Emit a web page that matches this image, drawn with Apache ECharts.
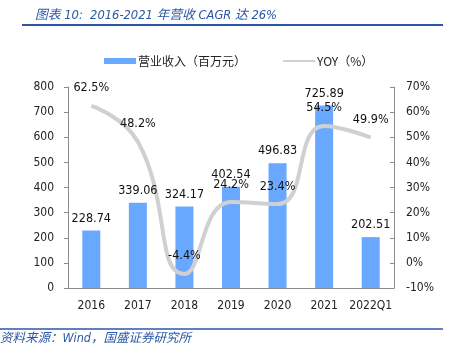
<!DOCTYPE html>
<html>
<head>
<meta charset="utf-8">
<script src="https://cdn.jsdelivr.net/npm/echarts@6/dist/echarts.min.js"></script>
<style>
html,body{margin:0;padding:0;background:#fff;}
#chart{width:450px;height:352px;}
</style>
</head>
<body>
<div id="chart"></div>
<script>
var categories = ['2016', '2017', '2018', '2019', '2020', '2021', '2022Q1'];
var revenue = [228.74, 339.06, 324.17, 402.54, 496.83, 725.89, 202.51];
var yoy = [62.5, 48.2, -4.4, 24.2, 23.4, 54.5, 49.9];
var leftTicks = [0, 100, 200, 300, 400, 500, 600, 700, 800];
var rightTicks = [-10, 0, 10, 20, 30, 40, 50, 60, 70];
var titleText = '图表 10:  2016-2021 年营收 CAGR 达 26%';
var sourceText = '资料来源：Wind，国盛证券研究所';
var barName = '营业收入（百万元）';
var lineName = 'YOY（%）';

var NUMFONT = '"DejaVu Sans Condensed", "DejaVu Sans", "Noto Sans CJK SC", sans-serif';
var CJKFONT = '"Noto Sans CJK SC", sans-serif';
var BLUE = '#2b57a5';
var AXIS = '#8c8c8c';

var chart = echarts.init(document.getElementById('chart'), null, {renderer: 'canvas'});
chart.setOption({
  backgroundColor: '#fff',
  animation: false,
  title: {
    text: titleText,
    left: 30, top: 4,
    textStyle: {color: BLUE, fontStyle: 'italic', fontWeight: 'normal', fontSize: 12.8, fontFamily: NUMFONT}
  },
  graphic: [
    {type: 'line', shape: {x1: 22, y1: 25, x2: 443, y2: 25}, style: {stroke: BLUE, lineWidth: 2}},
    {type: 'line', shape: {x1: 0, y1: 329, x2: 443, y2: 329}, style: {stroke: BLUE, lineWidth: 1.5}},
    {type: 'text', left: 0, top: 332, style: {text: sourceText, fill: BLUE, fontStyle: 'italic', fontSize: 12.5, fontFamily: NUMFONT}}
  ],
  legend: {
    left: 99, top: 50,
    itemGap: 36,
    itemWidth: 32, itemHeight: 6,
    textStyle: {color: '#222', fontSize: 12, fontFamily: CJKFONT, padding: [0, 0, 0, -3]},
    data: [{name: barName, icon: 'rect'}, {name: lineName}]
  },
  grid: {left: 68, right: 56, top: 87, bottom: 64},
  xAxis: {
    type: 'category',
    data: categories,
    boundaryGap: true,
    axisLine: {lineStyle: {color: AXIS}},
    axisTick: {inside: true, length: 4, interval: 0, lineStyle: {color: AXIS}},
    axisLabel: {color: '#222', fontSize: 12, fontFamily: NUMFONT, margin: 12, interval: 0}
  },
  yAxis: [
    {
      type: 'value', min: leftTicks[0], max: leftTicks[leftTicks.length - 1], interval: 100,
      splitLine: {show: false},
      axisLine: {show: true, lineStyle: {color: AXIS}},
      axisTick: {show: true, length: 4, lineStyle: {color: AXIS}},
      axisLabel: {color: '#222', fontSize: 12, fontFamily: NUMFONT, margin: 14}
    },
    {
      type: 'value', min: rightTicks[0], max: rightTicks[rightTicks.length - 1], interval: 10,
      splitLine: {show: false},
      axisLine: {show: true, lineStyle: {color: AXIS}},
      axisTick: {show: true, inside: true, length: 4, lineStyle: {color: AXIS}},
      axisLabel: {color: '#222', fontSize: 12, fontFamily: NUMFONT, margin: 12, formatter: '{value}%'}
    }
  ],
  series: [
    {
      name: barName,
      type: 'bar',
      data: revenue,
      barWidth: 18,
      z: 2,
      itemStyle: {color: '#69a8ff'}
    },
    {
      name: lineName,
      type: 'line',
      yAxisIndex: 1,
      data: yoy,
      smooth: 0.5,
      symbol: 'circle',
      symbolSize: 1,
      itemStyle: {color: 'rgba(208,208,208,0)'},
      lineStyle: {color: '#d0d0d0', width: 4},
      z: 3,
      label: {show: true, position: 'top', distance: 11, color: '#111', fontSize: 12.5, fontFamily: NUMFONT,
        formatter: function (p) { return p.value.toFixed(1) + '%'; }}
    },
    {
      name: 'barLabels',
      type: 'bar',
      data: revenue,
      barWidth: 18,
      barGap: '-100%',
      z: 5,
      silent: true,
      legendHoverLink: false,
      itemStyle: {color: 'rgba(0,0,0,0)'},
      label: {show: true, position: 'top', distance: 6, color: '#111', fontSize: 12.5, fontFamily: NUMFONT,
        formatter: function (p) { return p.value.toFixed(2); }}
    }
  ]
});
</script>
</body>
</html>
